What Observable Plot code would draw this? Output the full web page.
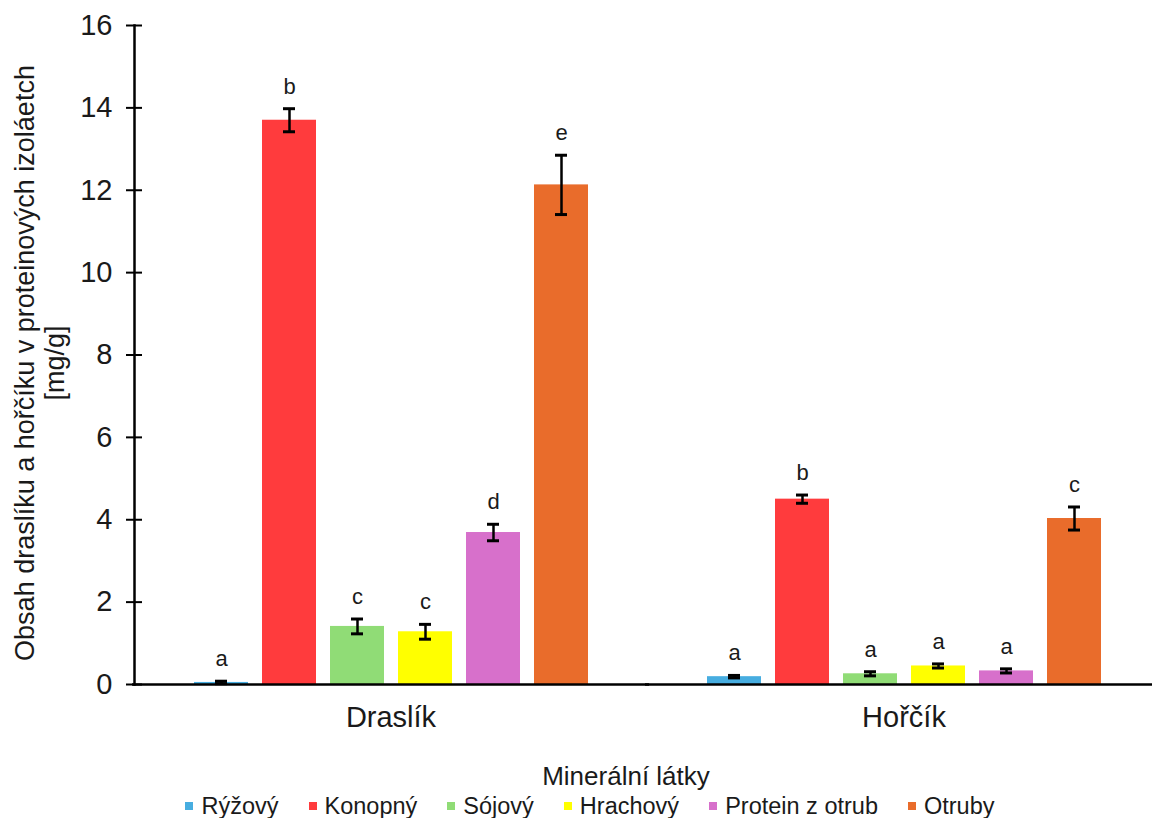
<!DOCTYPE html>
<html>
<head>
<meta charset="utf-8">
<script src="https://cdn.jsdelivr.net/npm/d3@7"></script>
<script src="https://cdn.jsdelivr.net/npm/@observablehq/plot@0.6"></script>
<style>
  html, body { margin: 0; padding: 0; background: #ffffff; }
  body { font-family: "Liberation Sans", Arial, sans-serif; color: #1a1a1a; }
  #wrap { position: relative; width: 1152px; height: 818px; overflow: hidden; background: #fff; }
  #chart { position: absolute; left: 0; top: 0; width: 1160px; }
  #chart svg { max-width: none !important; }
  #xtitle { position: absolute; top: 763px; left: 626px; transform: translateX(-50%);
            font-size: 26px; line-height: 26px; white-space: nowrap; color: #1a1a1a; }
  #legend { position: absolute; top: 795px; left: 0; width: 1180px; height: 22px;
            display: flex; justify-content: center; align-items: center;
            font-size: 23.5px; line-height: 22px; white-space: nowrap; color: #1a1a1a; }
  .item { display: flex; align-items: center; margin: 0 15px; }
  .sw { width: 8px; height: 8px; margin-right: 8px; display: inline-block; }
</style>
</head>
<body>
<div id="wrap">
  <div id="chart"></div>
  <div id="xtitle">Minerální látky</div>
  <div id="legend"></div>
</div>
<script>
// ---- data ----
const minerals = ["Draslík", "Hořčík"];
const isolates = ["Rýžový", "Konopný", "Sójový", "Hrachový", "Protein z otrub", "Otruby"];
const colors = ["#47ADE0", "#FF3B3D", "#90DC76", "#FFFF00", "#D770CB", "#E96C2B"];

const draslikMean = [0.05, 13.70, 1.41, 1.28, 3.69, 12.13];
const draslikErr  = [0.03, 0.28, 0.18, 0.18, 0.20, 0.72];
const draslikLetters = ["a", "b", "c", "c", "d", "e"];

const horcikMean = [0.19, 4.50, 0.26, 0.45, 0.33, 4.03];
const horcikErr  = [0.03, 0.10, 0.05, 0.05, 0.05, 0.28];
const horcikLetters = ["a", "b", "a", "a", "a", "c"];

const yTicks = [0, 2, 4, 6, 8, 10, 12, 14, 16];
const yTitle = "Obsah draslíku a hořčíku v proteinových izoláetch\n[mg/g]";

// ---- table built from the arrays ----
const rows = [];
isolates.forEach((iso, i) => {
  rows.push({mineral: minerals[0], isolate: iso, mean: draslikMean[i], err: draslikErr[i], letter: draslikLetters[i]});
});
isolates.forEach((iso, i) => {
  rows.push({mineral: minerals[1], isolate: iso, mean: horcikMean[i], err: horcikErr[i], letter: horcikLetters[i]});
});

const chart = Plot.plot({
  width: 1160,
  height: 745,
  marginLeft: 134,
  marginRight: 0,
  marginTop: 25,
  marginBottom: 61,
  style: {fontFamily: "'Liberation Sans', Arial, sans-serif", color: "#1a1a1a", background: "#ffffff", overflow: "visible", maxWidth: "none"},
  fx: {domain: minerals, padding: 0, label: null},
  x: {domain: isolates, paddingInner: 0.206, paddingOuter: 0.875, axis: null},
  y: {domain: [0, 16], label: null},
  color: {domain: isolates, range: colors},
  marks: [
    Plot.barY(rows, {fx: "mineral", x: "isolate", y: "mean", fill: "isolate"}),
    Plot.ruleX(rows, {fx: "mineral", x: "isolate", y1: d => d.mean - d.err, y2: d => d.mean + d.err, stroke: "#000", strokeWidth: 2.5}),
    Plot.tickY(rows, {fx: "mineral", x: "isolate", y: d => d.mean + d.err, stroke: "#000", strokeWidth: 3, insetLeft: 21, insetRight: 21}),
    Plot.tickY(rows, {fx: "mineral", x: "isolate", y: d => d.mean - d.err, stroke: "#000", strokeWidth: 3, insetLeft: 21, insetRight: 21}),
    Plot.text(rows, {fx: "mineral", x: "isolate", y: d => d.mean + d.err, text: "letter", dy: -22, fontSize: 22, fill: "#1a1a1a"}),
    Plot.ruleY([0], {stroke: "#000", strokeWidth: 2.5, insetLeft: -2, insetRight: -2}),
    Plot.frame({anchor: "left", facetAnchor: "left", stroke: "#000", strokeWidth: 2.5}),
    Plot.axisY({ticks: yTicks, tickSize: 16, dx: 8, tickPadding: 14, fontSize: 29, stroke: "#000", strokeWidth: 2, label: null}),
    Plot.axisFx({anchor: "bottom", tickSize: 0, tickPadding: 22, fontSize: 29, label: null}),
    Plot.text([yTitle], {frameAnchor: "left", facetAnchor: "left", rotate: -90, dx: -95, dy: 8, fontSize: 27, lineHeight: 1.1, fill: "#1a1a1a", textAnchor: "middle", lineAnchor: "middle"})
  ]
});
document.getElementById("chart").appendChild(chart);

// ---- legend below the chart ----
const legend = d3.select("#legend");
isolates.forEach((iso, i) => {
  const it = legend.append("div").attr("class", "item");
  it.append("span").attr("class", "sw").style("background", colors[i]);
  it.append("span").text(iso);
});
</script>
</body>
</html>
